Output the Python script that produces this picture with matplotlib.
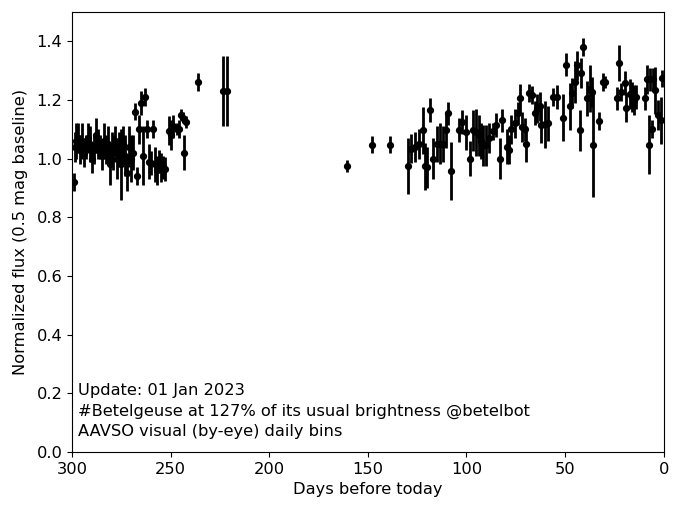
import matplotlib
matplotlib.use("Agg")
import matplotlib.pyplot as plt

# days before today, normalized flux, 1-sigma error
days = [299, 298.5, 298, 297, 296, 295, 294, 293, 292, 291, 290, 289, 288, 287,
        286, 285, 284, 283, 282, 281, 280, 279, 278, 277, 276, 275, 274, 273,
        272, 271, 270, 269, 268, 267, 266, 265, 264, 263, 262, 261, 260, 259,
        258, 257, 256, 255, 254, 253, 251, 250, 249, 247, 246, 245, 244, 243,
        242, 236, 223.4, 221.2,
        160.5, 148, 139,
        129.6, 128, 126, 124, 122, 121, 120, 118.6, 117, 115, 113.6, 112, 110.5,
        109.3, 108, 104, 102.5, 100, 98.3, 96.6, 95, 93.5, 92.5, 91.6, 90, 88.5,
        86.8, 84.8, 82.8, 81.8, 79.7, 78.5, 77.2, 75.5, 73.8, 73, 72, 70.5, 69.6,
        68.3, 67, 65.4, 64, 62.8, 62, 60.3, 58.6, 56.1, 54.1, 51.3, 49.3, 47.6,
        46.3, 45.1, 43.9, 42.6, 41.7, 40.9, 38.7, 37.5, 36.6, 35.8, 32.8, 30.8,
        30, 23.7, 22.7, 21.4, 19.8, 18.9, 17, 16, 15, 14, 9.6, 8.5, 7.6, 7, 5.7,
        5.5, 4.6, 2.9, 1.2, 0.7]
flux = [0.92, 1.04, 1.06, 1.07, 1.03, 1.06, 1.02, 1.04, 1.07, 1.05, 1.00, 1.03,
        1.08, 1.05, 1.04, 1.01, 1.06, 1.03, 1.05, 0.98, 1.04, 1.02, 1.06, 1.00,
        1.03, 0.98, 1.05, 1.01, 0.95, 1.04, 1.00, 1.02, 1.16, 0.94, 1.10, 1.19,
        1.01, 1.21, 1.10, 0.99, 0.985, 1.10, 0.98, 0.96, 0.99, 0.97, 0.97, 0.965,
        1.095, 1.08, 1.11, 1.10, 1.10, 1.15, 1.14, 1.02, 1.125, 1.26, 1.23, 1.23,
        0.974, 1.048, 1.048,
        0.974, 1.034, 1.04, 1.05, 1.097, 0.974, 0.97, 1.165, 1.00, 1.05, 1.05,
        1.05, 1.097, 1.154, 0.958, 1.097, 1.125, 1.09, 1.00, 1.097, 1.09, 1.08,
        1.06, 1.046, 1.046, 1.07, 1.093, 1.114, 1.00, 1.13, 1.04, 1.03, 1.10,
        1.12, 1.154, 1.205, 1.108, 1.10, 1.05, 1.224, 1.216, 1.156, 1.17, 1.178,
        1.114, 1.117, 1.12, 1.21, 1.21, 1.14, 1.32, 1.178, 1.224, 1.261, 1.318,
        1.097, 1.292, 1.38, 1.205, 1.238, 1.227, 1.048, 1.129, 1.261, 1.26,
        1.205, 1.326, 1.227, 1.258, 1.174, 1.22, 1.21, 1.20, 1.21, 1.205, 1.27,
        1.048, 1.27, 1.10, 1.27, 1.233, 1.148, 1.13, 1.273]
err = [0.03, 0.05, 0.06, 0.05, 0.05, 0.06, 0.05, 0.04, 0.05, 0.06, 0.05, 0.05,
       0.06, 0.05, 0.04, 0.05, 0.06, 0.05, 0.06, 0.07, 0.05, 0.06, 0.05, 0.07,
       0.06, 0.12, 0.06, 0.07, 0.06, 0.07, 0.08, 0.06, 0.03, 0.03, 0.05, 0.04,
       0.10, 0.03, 0.03, 0.06, 0.04, 0.03, 0.06, 0.05, 0.04, 0.05, 0.04, 0.04,
       0.05, 0.05, 0.04, 0.02, 0.03, 0.02, 0.02, 0.06, 0.02, 0.03, 0.12, 0.12,
       0.02, 0.03, 0.03,
       0.095, 0.05, 0.05, 0.05, 0.08, 0.08, 0.07, 0.04, 0.07, 0.06, 0.07, 0.06,
       0.06, 0.04, 0.10, 0.04, 0.04, 0.06, 0.06, 0.07, 0.08, 0.07, 0.06, 0.07,
       0.07, 0.05, 0.03, 0.04, 0.07, 0.04, 0.06, 0.05, 0.05, 0.05, 0.04, 0.05,
       0.05, 0.04, 0.06, 0.03, 0.03, 0.04, 0.05, 0.05, 0.06, 0.08, 0.06, 0.03,
       0.04, 0.08, 0.04, 0.08, 0.05, 0.07, 0.05, 0.07, 0.05, 0.03, 0.06, 0.08,
       0.05, 0.18, 0.03, 0.03, 0.02, 0.04, 0.06, 0.03, 0.04, 0.05, 0.05, 0.05,
       0.05, 0.04, 0.04, 0.05, 0.10, 0.04, 0.03, 0.04, 0.08, 0.05, 0.08, 0.03]

label_text = ("Update: 01 Jan 2023\n"
              "#Betelgeuse at 127% of its usual brightness @betelbot\n"
              "AAVSO visual (by-eye) daily bins")

plt.rcParams['font.size'] = 11.7
fig = plt.figure(figsize=(6.8, 5.15), dpi=100)
ax = fig.add_axes([0.106, 0.122, 0.870, 0.855])

ax.errorbar(days, flux, yerr=err, fmt='o', color='k', ms=4.2, elinewidth=2,
            capsize=0)

ax.set_xlim(300, 0)
ax.set_ylim(0, 1.5)
ax.set_yticks([0.0, 0.2, 0.4, 0.6, 0.8, 1.0, 1.2, 1.4])
ax.set_xlabel("Days before today")
ax.set_ylabel("Normalized flux (0.5 mag baseline)", labelpad=6)
ax.text(0.01, 0.03, label_text, transform=ax.transAxes, ha='left',
        va='bottom', fontsize=11.7, linespacing=1.45)

fig.savefig("out.png", dpi=100)
